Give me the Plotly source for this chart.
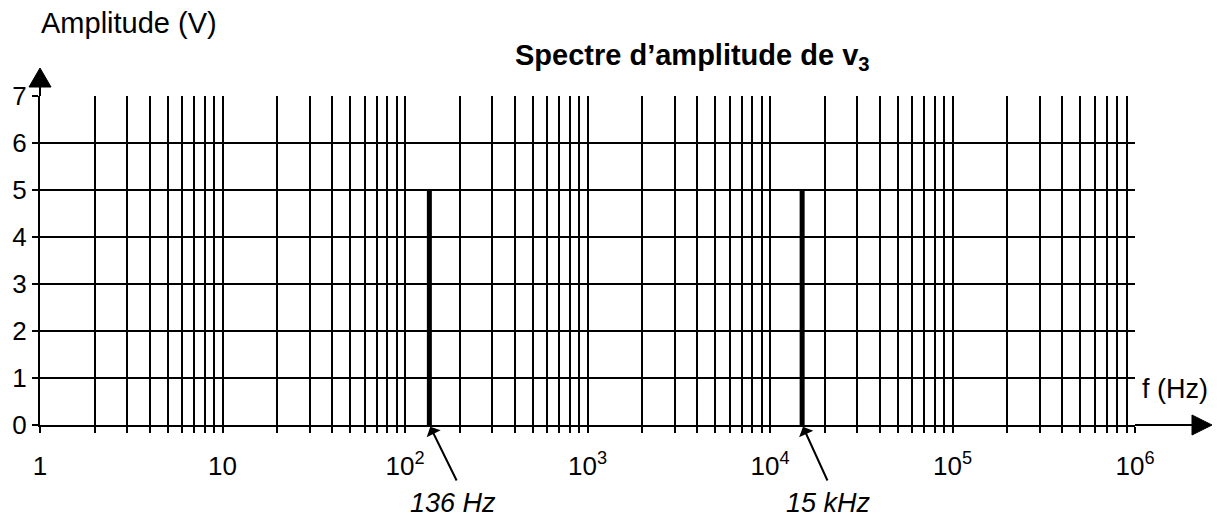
import numpy as np
import plotly.graph_objects as go

# ---- data ----
freqs_hz = [136, 15000]
amplitudes_v = [5, 5]
line_labels = ["136 Hz", "15 kHz"]
y_ticks = [0, 1, 2, 3, 4, 5, 6, 7]
x_tick_vals = [1, 10, 100, 1000, 10000, 100000, 1000000]
x_tick_text = ["1", "10", "10<sup>2</sup>", "10<sup>3</sup>", "10<sup>4</sup>",
               "10<sup>5</sup>", "10<sup>6</sup>"]
minor_digits = [2, 3, 4, 5, 6, 7, 8, 9]
decades = [1, 10, 100, 1000, 10000, 100000]

minor_vals = [d * m for d in decades for m in minor_digits]

FONT = "Liberation Sans, Arial, sans-serif"
OFF = 8  # page body margin
W, H = 1230 - OFF, 523 - OFF
ML, MR, MT, MB = 32, 95, 88, 98
PW = W - ML - MR
PH = H - MT - MB

def px(xwin):  # window pixel -> paper x
    return (xwin - OFF - ML) / PW

def py(ywin):  # window pixel -> paper y
    return (H - MB - (ywin - OFF)) / PH

fig = go.Figure()

# spectral lines
xs, ys = [], []
for f, a in zip(freqs_hz, amplitudes_v):
    xs += [f, f, None]
    ys += [0, a, None]
fig.add_trace(go.Scatter(x=xs, y=ys, mode="lines",
                         line=dict(color="black", width=5),
                         showlegend=False, hoverinfo="skip"))

grid = dict(showgrid=True, gridcolor="black", gridwidth=1.5)

fig.update_layout(
    width=W, height=H,
    margin=dict(l=ML, r=MR, t=MT, b=MB, autoexpand=False),
    paper_bgcolor="white", plot_bgcolor="white",
    font=dict(family=FONT, color="black", size=26),
    showlegend=False,
    xaxis=dict(type="log", range=[0, 6], tickvals=x_tick_vals, ticktext=x_tick_text,
               ticks="outside", ticklen=6, tickwidth=1.5, tickcolor="black",
               showline=True, linecolor="black", linewidth=2, zeroline=False,
               ticklabelstandoff=11, automargin=False,
               tickfont=dict(size=26, family=FONT, color="black"),
               minor=dict(tickvals=minor_vals, ticks="outside", ticklen=6,
                          tickwidth=1.5, tickcolor="black", **grid),
               **grid),
    yaxis=dict(range=[0, 7], tickvals=y_ticks,
               ticks="outside", ticklen=6, tickwidth=1.5, tickcolor="black",
               showline=True, linecolor="black", linewidth=2, zeroline=False,
               ticklabelstandoff=0, automargin=False,
               tickfont=dict(size=26, family=FONT, color="black"),
               **grid),
)

shapes = []
# y-axis extension and arrowhead
shapes.append(dict(type="line", xref="paper", yref="paper", x0=0, x1=0,
                   y0=1, y1=py(86), line=dict(color="black", width=2)))
shapes.append(dict(type="path", xref="paper", yref="paper",
                   path=f"M {px(29)} {py(87)} L {px(51)} {py(87)} L {px(40)} {py(68)} Z",
                   fillcolor="black", line=dict(color="black", width=1)))
# x-axis extension and arrowhead
shapes.append(dict(type="line", xref="paper", yref="paper", x0=1, x1=px(1193),
                   y0=0, y1=0, line=dict(color="black", width=2)))
shapes.append(dict(type="path", xref="paper", yref="paper",
                   path=f"M {px(1192)} {py(415)} L {px(1192)} {py(435)} L {px(1212)} {py(425)} Z",
                   fillcolor="black", line=dict(color="black", width=1)))
fig.update_layout(shapes=shapes)

ann = []
ann.append(dict(text="Amplitude (V)", xref="paper", yref="paper", x=px(39), y=py(23),
                xanchor="left", yanchor="middle", showarrow=False,
                font=dict(size=29, family=FONT, color="black")))
ann.append(dict(text="<b>Spectre d’amplitude de v<sub>3</sub></b>", xref="paper", yref="paper",
                x=px(692), y=py(57), xanchor="center", yanchor="middle", showarrow=False,
                font=dict(size=29, family=FONT, color="black")))
ann.append(dict(text="f (Hz)", xref="paper", yref="paper", x=px(1140), y=py(389),
                xanchor="left", yanchor="middle", showarrow=False,
                font=dict(size=27, family=FONT, color="black")))
shifts = [(24, 28, 57), (26, 26, 57)]
for f, lab, (tx, axo, ayo) in zip(freqs_hz, line_labels, shifts):
    lx = float(np.log10(f))
    ann.append(dict(text="", x=lx, y=0, xref="x", yref="y", showarrow=True,
                    ax=axo, ay=ayo, arrowhead=1, arrowsize=1.3, arrowwidth=2,
                    arrowcolor="black", standoff=2))
    ann.append(dict(text=f"<i>{lab}</i>", x=lx, y=0, xref="x", yref="y",
                    showarrow=False, xshift=tx, yshift=-78,
                    xanchor="center", yanchor="middle",
                    font=dict(size=27, family=FONT, color="black")))
fig.update_layout(annotations=ann)

fig.write_html("out.html")
